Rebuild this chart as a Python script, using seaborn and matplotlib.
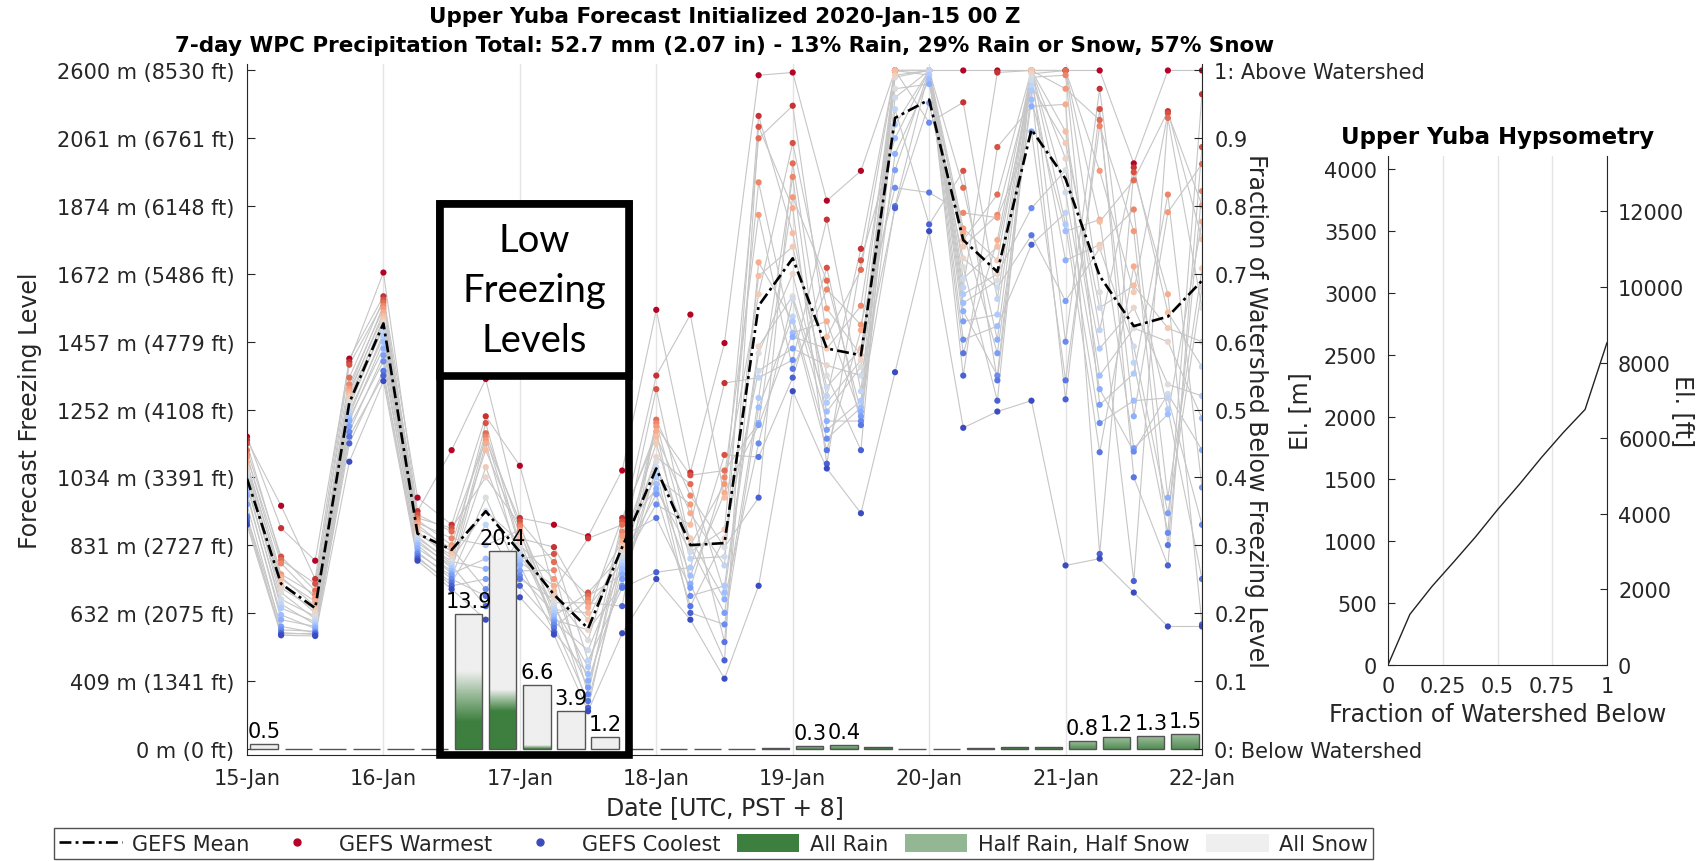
import numpy as np
import pandas as pd
import matplotlib
matplotlib.use("Agg")
import matplotlib.pyplot as plt
import seaborn as sns
from matplotlib.colors import LinearSegmentedColormap
from matplotlib.lines import Line2D
from matplotlib.patches import Patch, Rectangle

# ---- values ----
day_labels = ['15-Jan', '16-Jan', '17-Jan', '18-Jan', '19-Jan', '20-Jan', '21-Jan', '22-Jan']
steps_per_day = 4

# fraction of watershed below the freezing level, 21 GEFS members per 6-h step (warmest first)
gefs_steps = [
    [.46, .455, .45, .44, .433, .43, .422, .417, .413, .409, .405, .40, .393, .387, .378, .373, .36, .343, .34, .335, .33],
    [.358, .325, .283, .278, .273, .257, .253, .25, .243, .237, .23, .22, .213, .207, .197, .19, .18, .175, .171, .169, .167],
    [.277, .25, .243, .233, .227, .222, .217, .21, .205, .20, .195, .191, .187, .183, .18, .177, .173, .171, .17, .168, .166],
    [.575, .57, .566, .547, .537, .531, .527, .523, .519, .513, .51, .503, .497, .491, .487, .483, .475, .467, .46, .45, .423],
    [.702, .667, .662, .658, .653, .649, .643, .638, .633, .629, .625, .62, .613, .607, .60, .59, .58, .571, .557, .55, .542],
    [.37, .35, .345, .34, .337, .333, .33, .325, .32, .317, .313, .31, .307, .303, .30, .295, .29, .287, .283, .28, .277],
    [.44, .33, .325, .32, .31, .30, .295, .29, .285, .28, .276, .272, .27, .266, .262, .258, .255, .25, .245, .24, .235],
    [.545, .49, .48, .465, .46, .455, .45, .44, .415, .40, .37, .35, .33, .30, .28, .265, .25, .235, .225, .21, .19],
    [.417, .34, .335, .33, .327, .322, .318, .31, .305, .30, .297, .29, .285, .28, .275, .27, .262, .255, .25, .24, .223],
    [.33, .297, .287, .275, .263, .25, .24, .233, .227, .22, .215, .21, .205, .20, .195, .19, .187, .183, .178, .172, .168],
    [.313, .31, .23, .225, .22, .215, .208, .20, .19, .175, .16, .145, .13, .12, .11, .10, .09, .08, .07, .06, .055],
    [.41, .34, .335, .33, .32, .313, .305, .30, .297, .29, .285, .28, .275, .27, .265, .257, .25, .24, .237, .21, .17],
    [.647, .55, .53, .485, .48, .475, .468, .46, .45, .43, .423, .415, .41, .40, .39, .383, .375, .36, .34, .26, .25],
    [.64, .407, .403, .39, .373, .36, .347, .33, .31, .30, .297, .29, .28, .267, .255, .243, .237, .225, .21, .20, .19],
    [.598, .539, .433, .41, .40, .39, .377, .37, .323, .31, .297, .283, .27, .24, .23, .22, .20, .183, .157, .13, .103],
    [.993, .933, .917, .90, .835, .787, .717, .697, .67, .593, .583, .557, .547, .517, .503, .48, .477, .45, .43, .37, .24],
    [.997, .948, .893, .863, .843, .813, .797, .76, .74, .70, .667, .663, .637, .63, .613, .607, .59, .573, .56, .547, .527],
    [.808, .78, .709, .69, .677, .649, .63, .607, .59, .565, .55, .533, .52, .51, .497, .483, .47, .457, .44, .42, .413],
    [.852, .737, .72, .706, .653, .625, .617, .59, .58, .573, .563, .55, .527, .513, .503, .497, .49, .483, .477, .44, .347],
    [1, 1, 1, 1, 1, 1, 1, 1, .993, .99, .973, .96, .943, .92, .90, .877, .853, .827, .80, .797, .555],
    [1, 1, 1, 1, 1, 1, 1, 1, 1, 1, 1, 1, 1, .993, .987, .98, .952, .923, .82, .773, .763],
    [1, .953, .852, .827, .79, .767, .76, .75, .74, .723, .71, .693, .68, .67, .657, .645, .63, .603, .583, .55, .473],
    [1, .997, .887, .817, .787, .783, .75, .74, .72, .70, .69, .68, .663, .64, .623, .603, .583, .55, .543, .513, .497],
    [1, 1, 1, 1, 1, 1, 1, 1, 1, .995, .99, .985, .977, .97, .957, .947, .91, .797, .757, .743, .513],
    [1, 1, 1, 1, .993, .973, .95, .91, .893, .87, .853, .82, .79, .773, .763, .72, .66, .60, .543, .515, .27],
    [1, .973, .943, .927, .918, .852, .78, .777, .743, .738, .673, .65, .617, .59, .55, .53, .507, .48, .437, .287, .28],
    [.863, .857, .85, .838, .795, .763, .711, .683, .673, .65, .62, .593, .569, .553, .513, .49, .443, .438, .40, .247, .23],
    [1, .94, .937, .93, .817, .791, .67, .643, .62, .60, .537, .523, .517, .50, .493, .37, .347, .318, .30, .27, .18],
    [1, .965, .887, .862, .822, .801, .777, .751, .708, .68, .65, .60, .563, .52, .487, .44, .385, .33, .25, .183, .18],
]

# rank held by each member at a step (hand picked, so the grey member lines cross)
orders = {
    'a': [0, 1, 2, 3, 4, 5, 6, 7, 8, 9, 10, 11, 12, 13, 14, 15, 16, 17, 18, 19, 20],
    'b': [1, 0, 3, 2, 5, 4, 7, 6, 9, 8, 11, 10, 13, 12, 15, 14, 17, 16, 19, 18, 20],
    'c': [0, 1, 9, 5, 13, 3, 17, 7, 2, 11, 15, 4, 19, 8, 6, 14, 10, 18, 12, 16, 20],
    'd': [0, 7, 14, 3, 18, 10, 1, 12, 5, 15, 8, 16, 2, 11, 19, 6, 13, 4, 17, 9, 20],
    'e': [0, 3, 10, 15, 6, 19, 12, 1, 8, 17, 4, 13, 18, 7, 2, 16, 9, 5, 14, 11, 20],
}
step_order = ['a', 'b', 'a', 'b', 'a', 'b', 'a', 'c', 'b', 'd', 'a', 'e', 'c', 'b', 'd',
              'e', 'c', 'd', 'e', 'a', 'c', 'd', 'e', 'b', 'c', 'd', 'e', 'c', 'd']

gefs_mean = [.398, .243, .207, .51, .627, .317, .293, .35, .29, .227, .177, .297, .413, .30, .303,
             .653, .723, .59, .58, .93, .957, .75, .703, .913, .84, .697, .623, .637, .69]

# 6-h WPC precipitation (mm) and how the bar shades from rain (bottom) to snow
precip_mm = [0.5, 0, 0, 0, 0, 0, 13.9, 20.4, 6.6, 3.9, 1.2, 0, 0, 0,
             0, 0.1, 0.3, 0.4, 0.2, 0, 0, 0.05, 0.2, 0.2, 0.8, 1.2, 1.3, 1.5]
rain_top = [-1, -1, -1, -1, -1, -1, .2, .19, 0, -1, -1, -1, -1, -1,
            -1, 1, -.3, -.3, 1, -1, -1, 1, 1, 1, -.3, -.3, -.3, -.3]
snow_base = [0, 0, 0, 0, 0, 0, .58, .3, .06, 0, 0, 0, 0, 0,
             0, 2, 2, 2, 2, 0, 0, 2, 2, 2, 2, 2, 2, 2]
mm_per_unit = 70

# hypsometry of the Upper Yuba watershed
watershed_frac = [0, .1, .2, .3, .4, .5, .6, .7, .8, .9, 1]
elev_m = [0, 409, 632, 831, 1034, 1252, 1457, 1672, 1874, 2061, 2600]
elev_ft = [0, 1341, 2075, 2727, 3391, 4108, 4779, 5486, 6148, 6761, 8530]

rain_green = '#3d7f3e'
half_green = '#93b793'
snow_grey = '#efefef'
ink = '#262626'

sns.set_style('white')
plt.rcParams['font.family'] = ['DejaVu Sans']
plt.rcParams['text.color'] = ink
plt.rcParams['axes.labelcolor'] = ink
plt.rcParams['xtick.color'] = ink
plt.rcParams['ytick.color'] = ink

rows = []
for t, (vals, key) in enumerate(zip(gefs_steps, step_order)):
    for m, r in enumerate(orders[key]):
        rows.append({'member': m, 'day': t / steps_per_day, 'frac': vals[r], 'rank': r})
ens = pd.DataFrame(rows)
rank_cols = plt.get_cmap('coolwarm_r')(np.linspace(0, 1, 21))
palette = {r: rank_cols[r] for r in range(21)}

fig = plt.figure(figsize=(16.98, 8.62), dpi=100)
ax = fig.add_axes([0.14546, 0.12262, 0.56243, 0.80232])

sns.lineplot(data=ens, x='day', y='frac', units='member', estimator=None,
             color='#c6c6c6', lw=0.8, ax=ax, zorder=1)
sns.scatterplot(data=ens.sort_values('rank', kind='stable'), x='day', y='frac', hue='rank',
                palette=palette, s=20, linewidth=0, legend=False, ax=ax, zorder=2)
steps = np.arange(len(gefs_mean)) / steps_per_day
ax.plot(steps, gefs_mean, color='k', lw=1.9, dashes=(4.5, 1.6, 1.1, 1.6), zorder=3)

# precipitation bars with rain -> snow shading
pcm = LinearSegmentedColormap.from_list('precip', [rain_green, half_green, snow_grey])
centers = (np.arange(len(precip_mm)) + 0.5) / steps_per_day
heights = np.array(precip_mm) / mm_per_unit
bw = 0.8 / steps_per_day
h = np.linspace(0, 1, 200)
for c, ht, rt, sb in zip(centers, heights, rain_top, snow_base):
    if ht <= 0:
        continue
    v = np.clip((h - rt) / (sb - rt), 0, 1)
    ax.imshow(v[:, None], extent=(c - bw / 2, c + bw / 2, 0, ht), origin='lower',
              aspect='auto', cmap=pcm, vmin=0, vmax=1, zorder=3.5, interpolation='bilinear')
ax.bar(centers, heights, width=bw, color='none', edgecolor='#555555', lw=1, zorder=4)
for c, ht, mm in zip(centers, heights, precip_mm):
    if mm >= 0.25:
        ax.text(c, ht + 0.004, f'{mm:.1f}', ha='center', va='bottom', fontsize=15, color='k', zorder=5)

ax.set_xlim(0, 7)
ax.set_ylim(-0.01, 1.01)
ax.set_xticks(range(len(day_labels)))
ax.set_xticklabels(day_labels)
ax.set_yticks(watershed_frac)
ax.set_yticklabels([f'{m} m ({f} ft)' for m, f in zip(elev_m, elev_ft)])
ax.grid(axis='x', color='#e4e4e4', lw=1)
ax.set_axisbelow(True)
ax.tick_params(direction='in', length=6, labelsize=15, pad=9, width=0.8)
for s in ['top', 'right']:
    ax.spines[s].set_visible(False)
for s in ['left', 'bottom']:
    ax.spines[s].set_color(ink)
    ax.spines[s].set_linewidth(0.8)
ax.set_xlabel('Date [UTC, PST + 8]', fontsize=17)
ax.set_ylabel('Forecast Freezing Level', fontsize=17, va='center')
ax.xaxis.set_label_coords(0.5, -0.058)
ax.yaxis.set_label_coords(-0.227, 0.5)

axr = ax.twinx()
axr.set_ylim(ax.get_ylim())
axr.set_yticks(watershed_frac)
axr.set_yticklabels(['0: Below Watershed'] + [f'{f:g}' for f in watershed_frac[1:-1]] + ['1: Above Watershed'])
axr.tick_params(direction='in', length=6, labelsize=15, pad=9, width=0.8)
for s in ['top', 'left', 'bottom']:
    axr.spines[s].set_visible(False)
axr.spines['right'].set_color(ink)
axr.spines['right'].set_linewidth(0.8)
axr.set_ylabel('Fraction of Watershed Below Freezing Level', fontsize=17, rotation=270, va='center')
axr.yaxis.set_label_coords(1.057, 0.5)

fig.text(0.4267, 0.980, 'Upper Yuba Forecast Initialized 2020-Jan-15 00 Z',
         ha='center', va='center', fontsize=15.5, fontweight='bold', color='k')
fig.text(0.4267, 0.947, '7-day WPC Precipitation Total: 52.7 mm (2.07 in) - 13% Rain, 29% Rain or Snow, 57% Snow',
         ha='center', va='center', fontsize=15.5, fontweight='bold', color='k')

# "Low Freezing Levels" callout
W, H = 1698, 862
fig.add_artist(Rectangle((439.5 / W, 1 - 755.5 / H), 189 / W, 550.5 / H, transform=fig.transFigure,
                         fill=False, ec='k', lw=5.5, zorder=10))
fig.add_artist(Rectangle((439.5 / W, 1 - 377 / H), 189 / W, 172 / H, transform=fig.transFigure,
                         fc='white', ec='k', lw=5.5, zorder=10))
fig.text(534 / W, 1 - 291 / H, 'Low\nFreezing\nLevels', ha='center', va='center', fontsize=27.5,
         family=['Lato', 'DejaVu Sans'], linespacing=1.5, color='k', zorder=11)

# hypsometry panel
axh = fig.add_axes([0.81743, 0.22738, 0.12898, 0.59049])
sns.lineplot(x=watershed_frac, y=elev_m, color='#222222', lw=1, ax=axh)
axh.set_xlim(0, 1)
axh.set_ylim(0, 4105)
axh.set_xticks([0, 0.25, 0.5, 0.75, 1])
axh.set_xticklabels(['0', '0.25', '0.5', '0.75', '1'])
axh.set_yticks(range(0, 4001, 500))
axh.grid(axis='x', color='#e4e4e4', lw=1)
axh.tick_params(direction='in', length=5, labelsize=15, pad=8, width=0.8)
for s in ['top', 'right']:
    axh.spines[s].set_visible(False)
for s in ['left', 'bottom']:
    axh.spines[s].set_color(ink)
    axh.spines[s].set_linewidth(0.8)
axh.set_title('Upper Yuba Hypsometry', fontsize=16.5, fontweight='bold', color='k', pad=9)
axh.set_xlabel('Fraction of Watershed Below', fontsize=17)
axh.set_ylabel('El. [m]', fontsize=17, va='center')
axh.yaxis.set_label_coords(-0.40, 0.5)

axf = axh.twinx()
axf.set_ylim(0, 4105 * 3.28084)
axf.set_yticks(range(0, 12001, 2000))
axf.tick_params(direction='in', length=5, labelsize=15, pad=8, width=0.8)
for s in ['top', 'left', 'bottom']:
    axf.spines[s].set_visible(False)
axf.spines['right'].set_color(ink)
axf.spines['right'].set_linewidth(0.8)
axf.set_ylabel('El. [ft]', fontsize=17, rotation=270, va='center')
axf.yaxis.set_label_coords(1.345, 0.5)

handles = [
    Line2D([], [], color='k', lw=1.9, dashes=(4.5, 1.6, 1.1, 1.6)),
    Line2D([], [], color=rank_cols[0], marker='o', ls='', ms=5),
    Line2D([], [], color=rank_cols[-1], marker='o', ls='', ms=5),
    Patch(fc=rain_green, ec='none'),
    Patch(fc=half_green, ec='none'),
    Patch(fc=snow_grey, ec='none'),
]
labels = ['GEFS Mean', 'GEFS Warmest', 'GEFS Coolest', 'All Rain', 'Half Rain, Half Snow', 'All Snow']
fig.legend(handles, labels, loc='lower left', bbox_to_anchor=(54 / W, 0.002), ncol=6, fontsize=15,
           frameon=True, fancybox=False, edgecolor=ink, handlelength=3.0, handleheight=1.0,
           columnspacing=0.8, handletextpad=0.5, borderpad=0.25, borderaxespad=0)

fig.savefig('out.png', dpi=100)
